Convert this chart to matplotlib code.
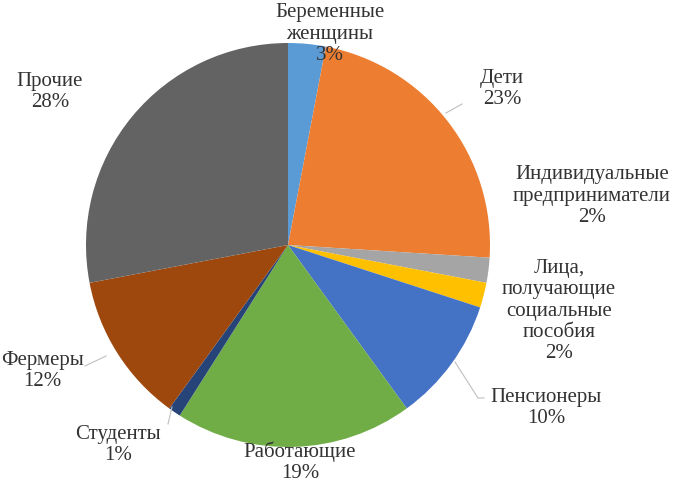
import matplotlib.pyplot as plt

plt.rcParams['font.family'] = ['Liberation Serif', 'DejaVu Serif']

# Данные диаграммы
categories = ['Беременные\nженщины', 'Дети', 'Индивидуальные\nпредприниматели',
              'Лица,\nполучающие\nсоциальные\nпособия', 'Пенсионеры', 'Работающие',
              'Студенты', 'Фермеры', 'Прочие']
shares = [3, 23, 2, 2, 10, 19, 1, 12, 28]
colors = ['#5B9BD5', '#ED7D31', '#A5A5A5', '#FFC000', '#4472C4',
          '#70AD47', '#264478', '#9E480E', '#636363']

# Положение подписей в пикселях исходной картинки
label_px = [(330, 34), (502, 89), (592, 196), (559, 311), (546, 408),
            (300, 462), (118, 445), (42, 371), (50, 92)]
# Точки выносных линий (на краю сектора -> у подписи), None - без линии
leaders_px = [None, [(446, 113), (462, 104)], None, None,
              [(455, 362), (478, 398), (484, 398)], None,
              [(172, 407), (168, 424)], [(106, 356), (85, 366)], None]

W, H = 680, 486
cx, cy, R = 288, 245, 202


def to_data(p):
    return ((p[0] - cx) / R, (cy - p[1]) / R)


fig = plt.figure(figsize=(W / 100, H / 100), dpi=100)
ax = fig.add_axes([0, 0, 1, 1])
ax.pie(shares, colors=colors, startangle=90, counterclock=False, radius=1,
       wedgeprops=dict(linewidth=0))
ax.set_xlim(-cx / R, (W - cx) / R)
ax.set_ylim((cy - H) / R, cy / R)
ax.set_aspect('auto')
ax.axis('off')

for name, val, pos, lead in zip(categories, shares, label_px, leaders_px):
    x, y = to_data(pos)
    ax.text(x, y, f'{name}\n{val}%', ha='center', va='center', fontsize=15,
            color='#333333', linespacing=1.15)
    if lead:
        pts = [to_data(p) for p in lead]
        ax.plot([p[0] for p in pts], [p[1] for p in pts], color='#BFBFBF', lw=0.8)

fig.savefig('out.png', dpi=100)
